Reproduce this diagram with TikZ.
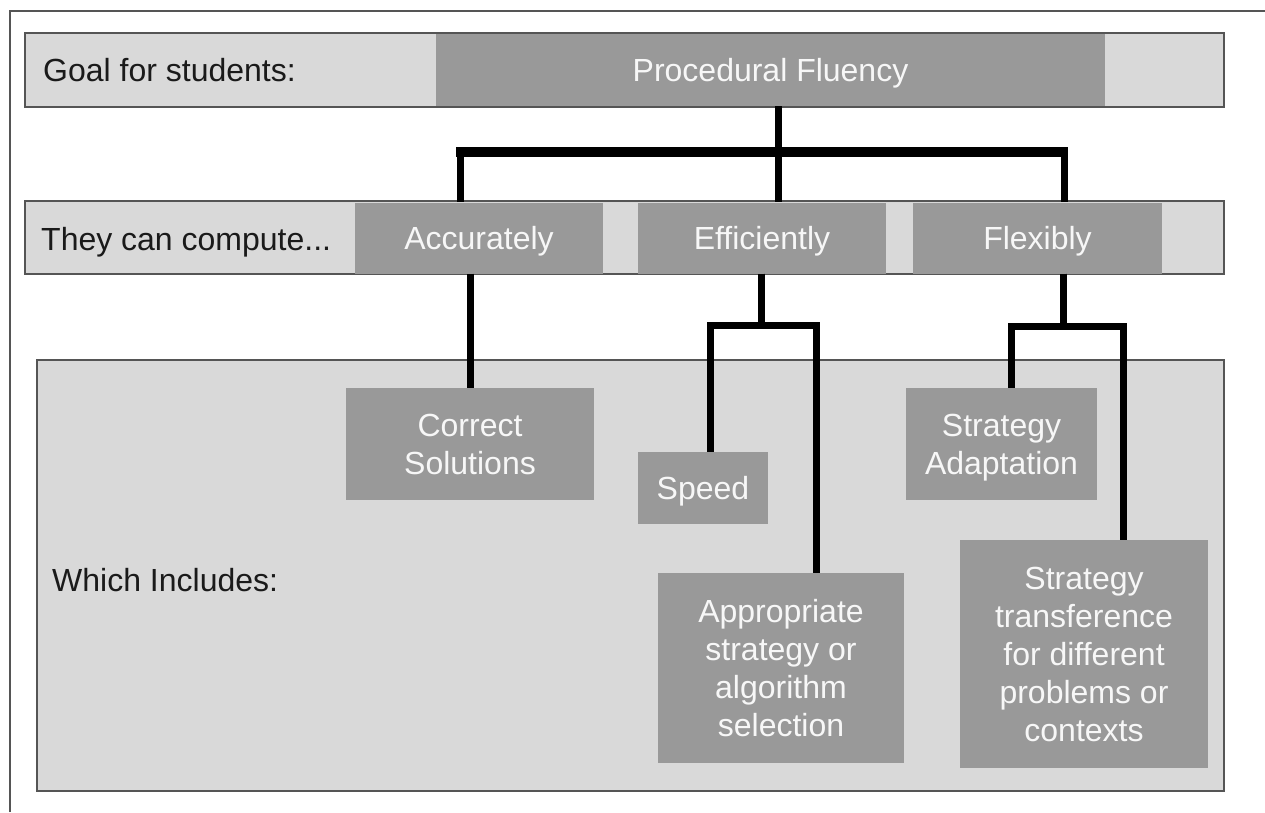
\documentclass[tikz,border=0pt]{standalone}
\usepackage{fontspec}
\setmainfont{Liberation Sans}
\definecolor{lightfill}{HTML}{D9D9D9}
\definecolor{darkfill}{HTML}{999999}
\definecolor{edgegray}{HTML}{555555}
\definecolor{boxtext}{HTML}{F7F7F7}
\definecolor{labeltext}{HTML}{1A1A1A}
\tikzset{
  balanced/.style={execute at begin node={\rule{0pt}{32pt}},
    execute at end node={\rule[-9pt]{0pt}{9pt}}},
  barbox/.style={draw=edgegray, line width=2pt, fill=lightfill, inner sep=0pt},
  panelbox/.style={draw=edgegray, line width=2pt, fill=lightfill, inner sep=0pt},
  darkbox/.style={fill=darkfill, inner sep=0pt, text=boxtext, align=center,
    font=\fontsize{32}{38}\selectfont},
  oneline/.style={darkbox, balanced},
  lbl/.style={anchor=west, inner sep=0pt, text=labeltext,
    font=\fontsize{32}{38}\selectfont, balanced},
  conn/.style={draw=black, line width=7pt},
  bus/.style={draw=black, line width=10pt},
  framelines/.style={draw=edgegray, line width=1.5pt}
}
\begin{document}
\begin{tikzpicture}[x=1pt,y=-1pt]
\useasboundingbox (0,0) rectangle (1265,812);
\fill[white] (0,0) rectangle (1265,812);
\draw[framelines] (10,812) -- (10,11) -- (1265,11);

% bars and panel
\node[barbox, minimum width=1199pt, minimum height=74pt] (bar1) at (624.5,70) {};
\node[barbox, minimum width=1199pt, minimum height=73pt] (bar2) at (624.5,237.5) {};
\node[panelbox, minimum width=1187pt, minimum height=431pt] (panel) at (630.5,575.5) {};

% labels
\node[lbl] (goal) at (43,69.5) {Goal for students:};
\node[lbl] (compute) at (41,239) {They can compute...};
\node[lbl] (incl) at (52,580) {Which Includes:};

% dark boxes
\node[oneline, minimum width=669pt, minimum height=72pt] (pf) at (770.5,70) {Procedural Fluency};
\node[oneline, minimum width=248pt, minimum height=71pt] (acc) at (479,238) {Accurately};
\node[oneline, minimum width=248pt, minimum height=71pt] (eff) at (762,238) {Efficiently};
\node[oneline, minimum width=249pt, minimum height=71pt] (flex) at (1037.5,238) {Flexibly};
\node[darkbox, minimum width=248pt, minimum height=112pt] (cs) at (470,444) {Correct\\Solutions};
\node[oneline, minimum width=130pt, minimum height=72pt] (speed) at (703,488) {Speed};
\node[darkbox, minimum width=246pt, minimum height=190pt] (appr) at (781,668) {Appropriate\\strategy or\\algorithm\\selection};
\node[darkbox, minimum width=191pt, minimum height=112pt] (sa) at (1001.5,444) {Strategy\\\smash{Adaptation}};
\node[darkbox, minimum width=248pt, minimum height=228pt] (st) at (1084,654) {Strategy\\transference\\for different\\problems or\\contexts};

% connectors from Procedural Fluency
\draw[conn] ([xshift=7.5pt]pf.south) -- ++(0,45) -| ([xshift=-19pt]acc.north);
\draw[conn] ([xshift=7.5pt]pf.south) -- ([xshift=16pt]eff.north);
\draw[conn] ([xshift=7.5pt]pf.south) -- ++(0,45) -| ([xshift=26.5pt]flex.north);
\coordinate (busL) at (456,152);
\coordinate (busR) at (1067.5,152);
\draw[bus] (busL) -- (busR);

% lower connectors
\draw[conn] (acc.south -| cs.north) -- (cs.north);
\draw[conn] ([xshift=-1pt]eff.south) -- ++(0,52) -| ([xshift=7pt]speed.north);
\draw[conn] ([xshift=-1pt]eff.south) -- ++(0,52) -| ([xshift=35pt]appr.north);
\draw[conn] ([xshift=25.5pt]flex.south) -- ++(0,53) -| ([xshift=9.5pt]sa.north);
\draw[conn] ([xshift=25.5pt]flex.south) -- ++(0,53) -| ([xshift=39pt]st.north);
\end{tikzpicture}
\end{document}
